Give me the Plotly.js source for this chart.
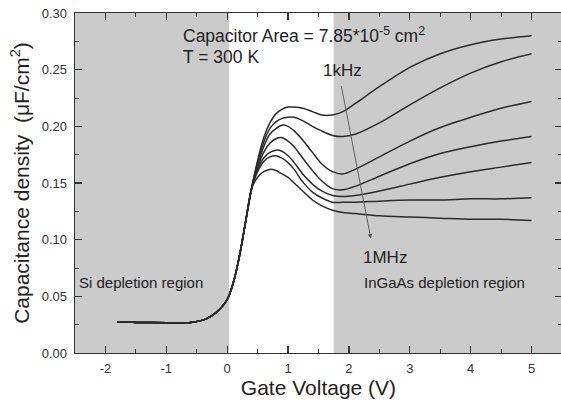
<!DOCTYPE html>
<html>
<head>
<meta charset="utf-8">
<script src="https://cdn.plot.ly/plotly-3.0.1.min.js"></script>
<style>
html,body{margin:0;padding:0;overflow:hidden;background:#fff;}
#chart{width:563px;height:408px;}
</style>
</head>
<body>
<div id="chart"></div>
<script>
// Gate voltage (V)
const voltage = [-1.8,-1.5,-1.0,-0.6,-0.4,-0.25,-0.1,0,0.1,0.2,0.3,0.4,0.5,0.6,0.7,0.8,0.9,1.0,1.1,1.24,1.4,1.55,1.73,1.9,2.1,2.5,3.0,3.5,4.0,4.5,5.0];
// shared depletion part (V <= 0.4)
const common = [0.0275,0.027,0.0268,0.027,0.029,0.033,0.040,0.047,0.062,0.085,0.115,0.145];
// capacitance density (uF/cm2), 1 kHz ... 1 MHz
const c1 = common.concat([0.170,0.190,0.203,0.211,0.215,0.217,0.217,0.216,0.213,0.210,0.210,0.213,0.220,0.235,0.252,0.264,0.272,0.277,0.280]);
const c2 = common.concat([0.168,0.186,0.198,0.204,0.207,0.208,0.208,0.205,0.200,0.196,0.192,0.191,0.193,0.203,0.219,0.234,0.247,0.257,0.264]);
const c3 = common.concat([0.166,0.182,0.193,0.198,0.201,0.200,0.196,0.188,0.177,0.167,0.160,0.158,0.162,0.173,0.187,0.199,0.208,0.216,0.222]);
const c4 = common.concat([0.164,0.177,0.185,0.189,0.190,0.187,0.182,0.172,0.161,0.152,0.145,0.144,0.147,0.156,0.167,0.176,0.182,0.187,0.191]);
const c5 = common.concat([0.162,0.172,0.177,0.179,0.178,0.174,0.168,0.158,0.149,0.143,0.139,0.138,0.139,0.143,0.149,0.155,0.160,0.164,0.168]);
const c6 = common.concat([0.160,0.169,0.173,0.174,0.172,0.168,0.162,0.151,0.142,0.137,0.133,0.133,0.133,0.134,0.135,0.135,0.136,0.136,0.137]);
const c7 = common.concat([0.155,0.160,0.162,0.161,0.158,0.155,0.150,0.143,0.135,0.130,0.126,0.124,0.123,0.121,0.120,0.119,0.118,0.118,0.117]);
const series = [c1,c2,c3,c4,c5,c6,c7];
const seriesNames = ['1kHz','f2','f3','f4','f5','f6','1MHz'];
// tick labels
const xTickVals = [-2,-1,0,1,2,3,4,5];
const xTickText = ['-2','-1','0','1','2','3','4','5'];

const FONT = '"Liberation Sans", Arial, Helvetica, sans-serif';
const traces = series.map((c,i)=>({
  x: voltage, y: c, type:'scatter', mode:'lines', name: seriesNames[i],
  line:{color:'#2b2b2b', width:1.5, shape:'spline', smoothing:0.8},
  hoverinfo:'skip', showlegend:false
}));

const axisCommon = {
  showline:true, linecolor:'#333', linewidth:1.3, mirror:'ticks',
  ticks:'inside', ticklen:7, tickwidth:1.2, tickcolor:'#333',
  showgrid:false, zeroline:false,
  tickfont:{family:FONT, size:13, color:'#333'}
};

const layout = {
  width:563, height:408,
  margin:{l:75, r:1, t:13, b:55},
  paper_bgcolor:'#fff', plot_bgcolor:'#fff',
  font:{family:FONT, color:'#222'},
  xaxis: Object.assign({}, axisCommon, {
    range:[-2.5,5.5], tickmode:'array', tickvals:xTickVals, ticktext:xTickText,
    ticklabelstandoff:3,
    minor:{ticks:'inside', ticklen:4, dtick:0.5, tick0:0, tickcolor:'#333', tickwidth:1},
    title:{text:'Gate Voltage (V)', font:{family:FONT, size:21, color:'#222'}, standoff:4}
  }),
  yaxis: Object.assign({}, axisCommon, {
    range:[0,0.30], dtick:0.05, tick0:0, tickformat:'.2f',
    ticklabelstandoff:4,
    minor:{ticks:'inside', ticklen:4, dtick:0.025, tickcolor:'#333', tickwidth:1},
    title:{text:'Capacitance density  (\u03bcF/cm<sup>2</sup>)', font:{family:FONT, size:21, color:'#222'}, standoff:6}
  }),
  shapes:[
    {type:'rect', xref:'x', yref:'paper', x0:-2.5, x1:0.03, y0:0, y1:1, fillcolor:'#cbcbcb', line:{width:0}, layer:'below'},
    {type:'rect', xref:'x', yref:'paper', x0:1.75, x1:5.5, y0:0, y1:1, fillcolor:'#cbcbcb', line:{width:0}, layer:'below'}
  ],
  annotations:[
    {x:-0.76, y:0.281, xref:'x', yref:'y', xanchor:'left', yanchor:'middle', showarrow:false,
     text:'Capacitor Area = 7.85*10<sup>-5</sup> cm<sup>2</sup>', font:{family:FONT, size:17.5, color:'#222'}},
    {x:-0.76, y:0.2615, xref:'x', yref:'y', xanchor:'left', yanchor:'middle', showarrow:false,
     text:'T = 300 K', font:{family:FONT, size:17.5, color:'#222'}},
    {x:1.54, y:0.2495, xref:'x', yref:'y', xanchor:'left', yanchor:'middle', showarrow:false,
     text:'1kHz', font:{family:FONT, size:17, color:'#222'}},
    {x:2.2, y:0.0845, xref:'x', yref:'y', xanchor:'left', yanchor:'middle', showarrow:false,
     text:'1MHz', font:{family:FONT, size:17, color:'#222'}},
    {x:-2.46, y:0.062, xref:'x', yref:'y', xanchor:'left', yanchor:'middle', showarrow:false,
     text:'Si depletion region', font:{family:FONT, size:15, color:'#222'}},
    {x:2.22, y:0.062, xref:'x', yref:'y', xanchor:'left', yanchor:'middle', showarrow:false,
     text:'InGaAs depletion region', font:{family:FONT, size:15, color:'#222'}},
    {x:2.36, y:0.101, ax:1.87, ay:0.237, xref:'x', yref:'y', axref:'x', ayref:'y',
     showarrow:true, text:'', arrowhead:2, arrowsize:1, arrowwidth:0.9, arrowcolor:'#555', standoff:0}
  ]
};

Plotly.newPlot('chart', traces, layout, {displayModeBar:false, staticPlot:true});
</script>
</body>
</html>
